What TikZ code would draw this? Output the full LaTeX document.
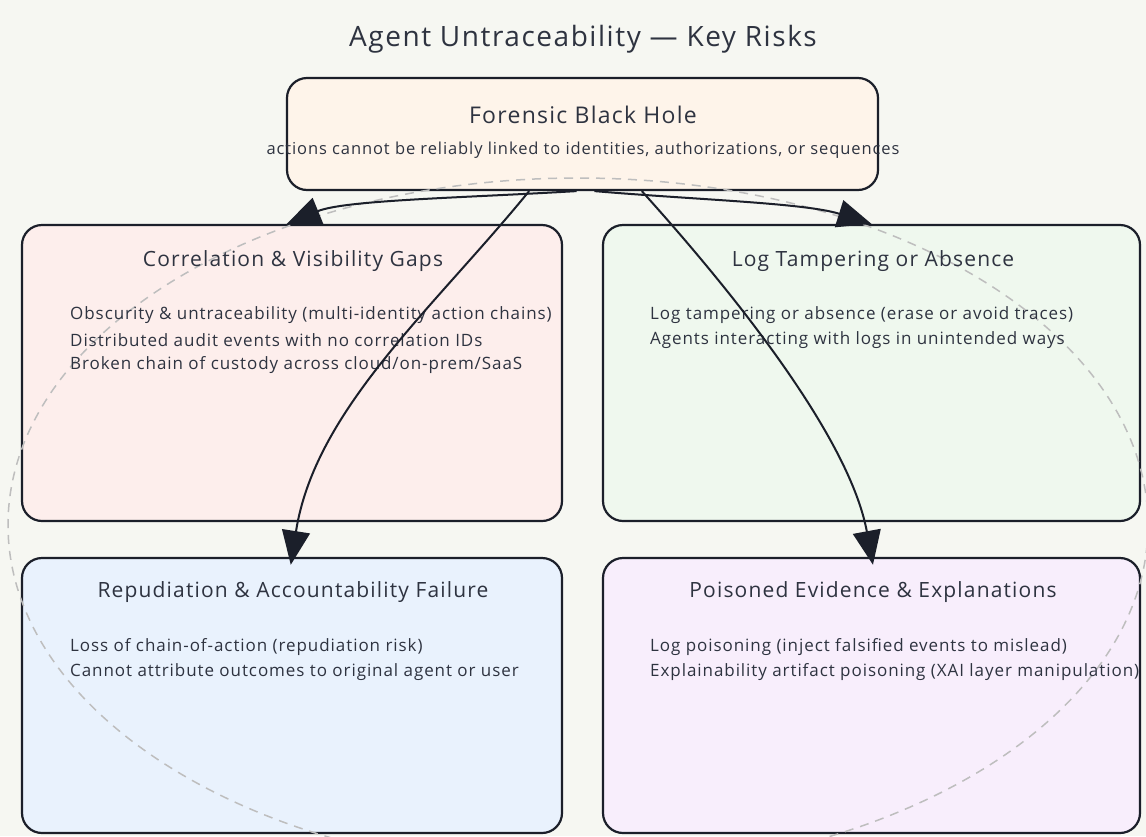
\documentclass[tikz,border=0pt]{standalone}
\usepackage{fontspec}
\setmainfont{Open Sans}[LetterSpace=5.5]
\usetikzlibrary{arrows.meta,calc}
\definecolor{canvas}{HTML}{F6F7F2}
\definecolor{ink}{HTML}{1B1F2A}
\definecolor{txt}{HTML}{2E3340}
\definecolor{peach}{HTML}{FEF4EA}
\definecolor{rose}{HTML}{FDEEEC}
\definecolor{mint}{HTML}{EFF8EE}
\definecolor{sky}{HTML}{E9F2FD}
\definecolor{lilac}{HTML}{F8EEFC}
\definecolor{guide}{HTML}{BEBEBE}
\tikzset{
  card/.style={draw=ink, line width=2.2pt, rounded corners=20pt, inner sep=0pt},
  cardtitle/.style={text=txt, font=\fontsize{21}{25}\selectfont, inner sep=0pt},
  item/.style={text=txt, font=\fontsize{17}{20}\selectfont, anchor=west, inner sep=0pt},
  link/.style={draw=ink, line width=2pt, -{Triangle[length=34pt,width=28pt]}},
}
\begin{document}
\begin{tikzpicture}[x=1pt,y=-1pt]
\fill[canvas] (0,0) rectangle (1146,836);
\useasboundingbox (0,0) rectangle (1146,836);

% cards
\node[card, fill=peach, minimum width=591pt, minimum height=112pt] (hole) at (582.5,134) {};
\node[card, fill=rose,  minimum width=540pt, minimum height=296pt] (corr) at (292,373) {};
\node[card, fill=mint,  minimum width=537pt, minimum height=296pt] (logt) at (871.5,373) {};
\node[card, fill=sky,   minimum width=540pt, minimum height=275pt] (repu) at (292,695.5) {};
\node[card, fill=lilac, minimum width=537pt, minimum height=275pt] (pois) at (871.5,695.5) {};

% dashed guide ring behind the texts
\begin{scope}
  \clip (0,0) rectangle (1146,836);
  \draw[guide, line width=1.5pt, dash pattern=on 9pt off 7pt] (578,525) ellipse [x radius=570pt, y radius=347pt];
\end{scope}

% heading
\node[text=txt, font=\fontsize{28}{32}\selectfont, inner sep=0pt] (heading) at (583,39) {Agent Untraceability — Key Risks};

% top card texts
\node[cardtitle, font=\fontsize{23}{27}\selectfont] (holeT) at (583,115) {Forensic Black Hole};
\node[text=txt, font=\fontsize{16.5}{19}\selectfont, inner sep=0pt] (holeS) at (583,150) {actions cannot be reliably linked to identities, authorizations, or sequences};

% correlation card
\node[cardtitle] (corrT) at (293,261) {Correlation \& Visibility Gaps};
\node[item] (corr1) at (70,315) {Obscurity \& untraceability (multi-identity action chains)};
\node[item] (corr2) at (70,340) {Distributed audit events with no correlation IDs};
\node[item] (corr3) at (70,365) {Broken chain of custody across cloud/on-prem/SaaS};

% tampering card
\node[cardtitle] (logtT) at (873,261) {Log Tampering or Absence};
\node[item] (logt1) at (650,315) {Log tampering or absence (erase or avoid traces)};
\node[item] (logt2) at (650,340) {Agents interacting with logs in unintended ways};

% repudiation card
\node[cardtitle] (repuT) at (293,592) {Repudiation \& Accountability Failure};
\node[item] (repu1) at (70,647) {Loss of chain-of-action (repudiation risk)};
\node[item] (repu2) at (70,672) {Cannot attribute outcomes to original agent or user};

% poisoning card
\node[cardtitle] (poisT) at (873,592) {Poisoned Evidence \& Explanations};
\node[item] (pois1) at (650,647) {Log poisoning (inject falsified events to mislead)};
\node[item] (pois2) at (650,672) {Explainability artifact poisoning (XAI layer manipulation)};

% connectors
\draw[link] ($(hole.south west)!0.49!(hole.south east)$) .. controls (460,198) and (345,200) .. ($(corr.north west)!0.49!(corr.north east)$);
\draw[link] ($(hole.south west)!0.52!(hole.south east)$) .. controls (700,200) and (805,203) .. ($(logt.north west)!0.5!(logt.north east)$);
\draw[link, shorten >=-8pt] ($(hole.south west)!0.41!(hole.south east)$) .. controls (432,310) and (315,410) .. ($(repu.north west)!0.5!(repu.north east)$);
\draw[link, shorten >=-8pt] ($(hole.south west)!0.6!(hole.south east)$) .. controls (740,300) and (850,440) .. ($(pois.north west)!0.5!(pois.north east)$);
\end{tikzpicture}
\end{document}
